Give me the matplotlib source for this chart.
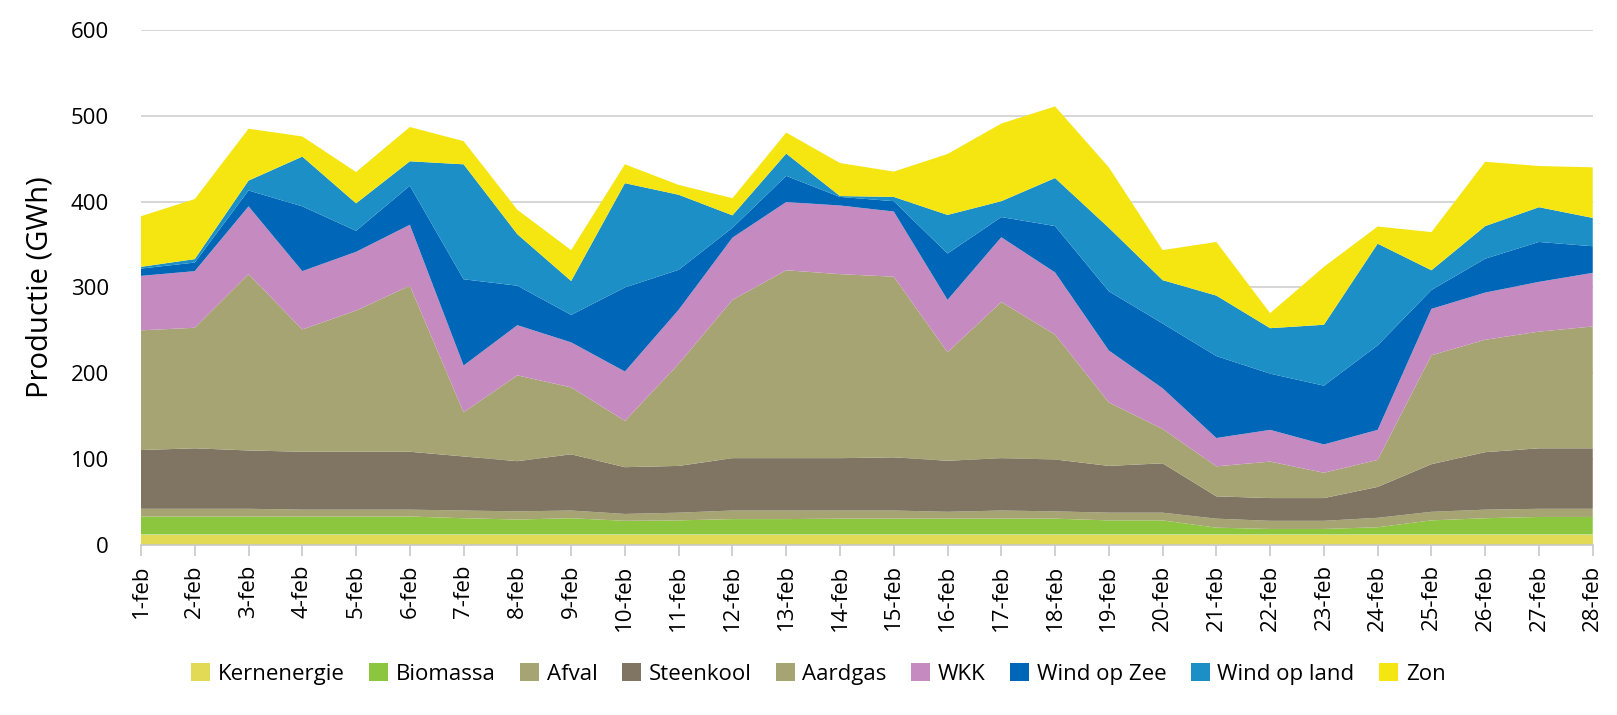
import matplotlib
matplotlib.use("Agg")
import matplotlib.pyplot as plt
import numpy as np

days = [f"{d}-feb" for d in range(1, 29)]

kernenergie = [12] * 28
biomassa = [21, 21, 21, 21, 21, 21, 19, 17.5, 19, 16, 16.5, 18, 18, 18.5,
             18.5, 18.5, 18.5, 18.5, 16.5, 16.5, 8, 6.5, 6.5, 8.5, 16.5, 19, 20.5, 20.5]
afval = [9, 9, 9, 8, 8, 8, 9, 9.5, 9, 8, 9, 10, 10, 9.5,
         9.5, 8, 9.5, 8.5, 9, 9, 10.5, 9.5, 9.5, 11, 10, 10, 9.5, 9.5]
steenkool = [68.5, 70.5, 68, 67.5, 67.5, 67.5, 63, 58.5, 65.5, 54.5, 54.5, 61, 61, 61,
             62, 59.5, 61, 60.5, 54.5, 57.5, 26, 26.5, 26.5, 36, 55.5, 67, 70.5, 70.5]
aardgas = [139.5, 140.5, 205.5, 142.5, 164.5, 193.5, 51.5, 100, 78, 54, 119, 184.5, 219, 214.5,
           210.5, 126.5, 182, 145.5, 74, 40, 35, 42.5, 29.5, 31.5, 127, 131, 136, 142]
wkk = [63.5, 66, 79, 68, 68.5, 71, 54.5, 58.5, 52.5, 57.5, 63, 72.5, 79.5, 80,
       76, 61, 75.5, 72.5, 60.5, 47.5, 33, 37, 33, 35, 54, 55, 58, 62.5]
wind_zee = [8.5, 10, 18.5, 75.5, 24.5, 45.5, 100.5, 46, 32, 98, 46.5, 11.5, 30.5, 10,
            12, 54, 23.5, 54, 69, 75.5, 95.5, 65.5, 68.5, 98.5, 22, 39.5, 46.5, 31]
wind_land = [2, 4, 11.5, 58, 32, 28.5, 134, 60, 39.5, 121.5, 87.5, 14.5, 26, 1,
             5, 45, 18.5, 56, 74, 50.5, 70.5, 53, 71, 118.5, 23, 38, 40.5, 33]
zon = [59, 70, 60.5, 23.5, 36.5, 40, 27, 28.5, 36, 22, 11.5, 20, 24.5, 38.5,
       29.5, 71, 90.5, 83.5, 70.5, 35, 62.5, 17.5, 67.5, 20, 44.5, 75, 48, 59]

labels = ["Kernenergie", "Biomassa", "Afval", "Steenkool", "Aardgas", "WKK",
          "Wind op Zee", "Wind op land", "Zon"]
colors = ["#E2DA55", "#8CC63F", "#A6A473", "#807563", "#A6A473", "#C58BC0",
          "#0066B8", "#1B8FC6", "#F5E612"]

plt.rcParams['font.family'] = ['Open Sans', 'DejaVu Sans']

fig = plt.figure(figsize=(16.17, 7.15), dpi=100)
ax = fig.add_axes([0.0872, 0.238, 0.8978, 0.72])

x = np.arange(len(days))
series = [kernenergie, biomassa, afval, steenkool, aardgas, wkk, wind_zee, wind_land, zon]
ax.stackplot(x, *series, labels=labels, colors=colors, linewidth=0, zorder=2)

ax.set_xlim(0, len(days) - 1)
ax.set_ylim(0, 600)
ax.set_yticks(range(0, 601, 100))
ax.yaxis.grid(True, color="#D0D0D0", linewidth=1.2, zorder=0)
ax.set_axisbelow(True)
ax.set_xticks(x)
ax.set_xticklabels(days, rotation=90, fontsize=16)
ax.tick_params(axis='y', length=0, labelsize=16, pad=23)
ax.tick_params(axis='x', length=8, color="#C8C8C8", width=1.2, pad=6)
for s in ["top", "right", "left"]:
    ax.spines[s].set_visible(False)
ax.spines["bottom"].set_color("#C8C8C8")
ax.spines["bottom"].set_linewidth(1.2)
ax.set_ylabel("Productie (GWh)", fontsize=21, labelpad=12)

handles, lbls = ax.get_legend_handles_labels()
fig.legend(handles, lbls, loc="center", bbox_to_anchor=(0.506, 0.057), ncol=9,
           frameon=False, fontsize=16, handlelength=0.85, handleheight=0.85,
           handletextpad=0.35, columnspacing=1.1)

fig.savefig("out.png", dpi=100)
